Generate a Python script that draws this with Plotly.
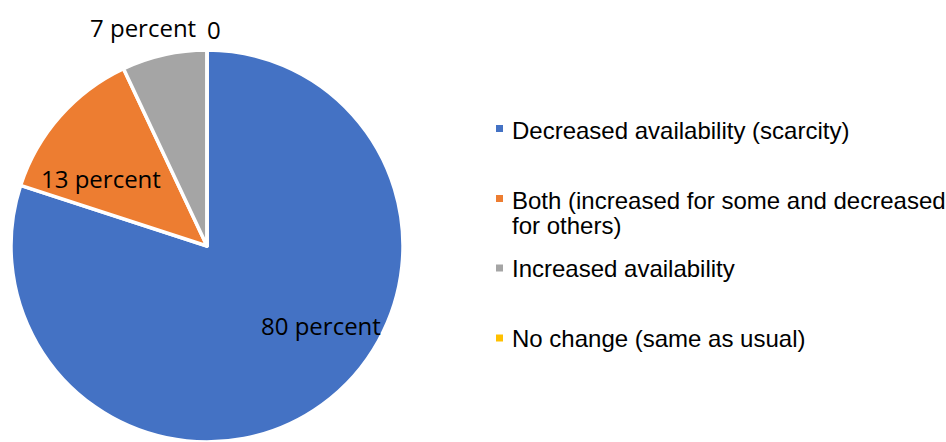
import plotly.graph_objects as go

# Survey responses: change in availability
categories = [
    "Decreased availability (scarcity)",
    "Both (increased for some and decreased for others)",
    "Increased availability",
    "No change (same as usual)",
]
# Legend text, wrapped the way it is drawn
legend_lines = [
    ["Decreased availability (scarcity)"],
    ["Both (increased for some and decreased", "for others)"],
    ["Increased availability"],
    ["No change (same as usual)"],
]
values = [80, 13, 7, 0]
colors = ["#4472C4", "#ED7D31", "#A5A5A5", "#FFC000"]

W, H = 946, 442


def px(x):
    return x / W


def py(y):
    return 1 - y / H


fig = go.Figure(
    go.Pie(
        labels=categories,
        values=values,
        sort=False,
        direction="clockwise",
        rotation=0,
        marker=dict(colors=colors, line=dict(color="white", width=3.5)),
        textinfo="none",
        hoverinfo="label+value",
        showlegend=False,
        domain=dict(x=[px(10), px(404)], y=[0, py(50)]),
    )
)

# Data labels
label_pos = [(321, 325), (101, 178), (143, 27), (214, 30)]
for v, (lx, ly) in zip(values, label_pos):
    fig.add_annotation(
        x=px(lx), y=py(ly), xref="paper", yref="paper",
        text=f"{v} percent" if v > 0 else str(v),
        showarrow=False, xanchor="center", yanchor="middle",
        font=dict(family="Open Sans", size=24, color="#000000"),
    )

# Legend entries
legend_y = [[130], [201, 226], [268], [338]]
swatch_y = [128.5, 198.5, 268, 338]
for lines, c, ys, sy in zip(legend_lines, colors, legend_y, swatch_y):
    fig.add_shape(
        type="rect", xref="paper", yref="paper",
        x0=px(496), x1=px(503), y0=py(sy + 3.5), y1=py(sy - 3.5),
        fillcolor=c, line=dict(width=0),
    )
    for line, ty in zip(lines, ys):
        fig.add_annotation(
            x=px(510), y=py(ty), xref="paper", yref="paper",
            text=line, showarrow=False, xanchor="left", yanchor="middle",
            align="left",
            font=dict(family="Liberation Sans", size=24, color="#000000"),
        )

fig.update_layout(
    width=W, height=H,
    margin=dict(l=0, r=0, t=0, b=0),
    paper_bgcolor="white",
    plot_bgcolor="white",
)

fig.write_html("out.html")
